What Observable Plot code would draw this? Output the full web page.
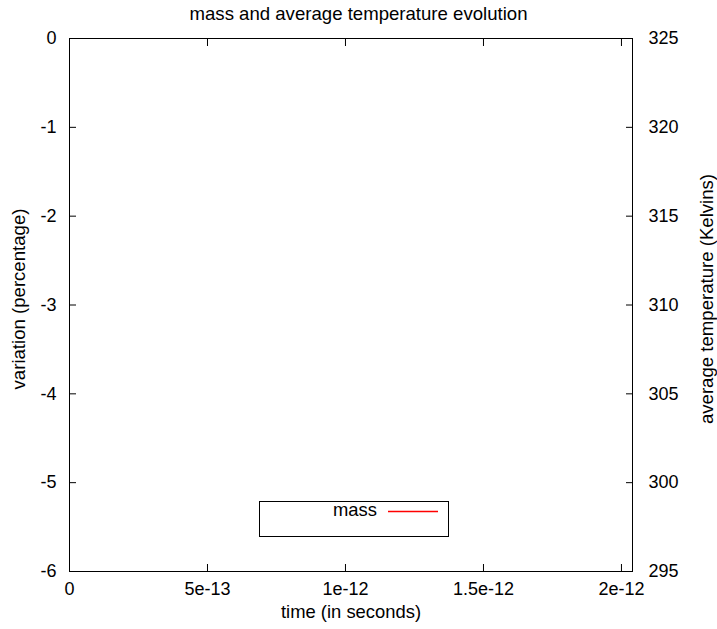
<!DOCTYPE html>
<html>
<head>
<meta charset="utf-8">
<script src="https://cdn.jsdelivr.net/npm/d3@7"></script>
<script src="https://cdn.jsdelivr.net/npm/@observablehq/plot@0.6"></script>
<style>
  body { margin: 0; background: #fff; }
  #wrap { position: relative; width: 717px; height: 629px; font-family: "Liberation Sans", Arial, sans-serif; color: #000; }
  #title { position: absolute; left: 0; top: 5px; width: 717px; text-align: center; font-size: 18.6px; line-height: 18px; }
  #chart { position: absolute; left: 0; top: 0; }
  #legend { position: absolute; left: 259px; top: 501px; width: 188px; height: 34px; border: 1px solid #000; background: #fff; }
  #legend .lab { position: absolute; left: 57px; top: -1px; width: 60px; text-align: right; font-size: 18.4px; line-height: 18px; }
  #legend svg { position: absolute; left: 0; top: 0; }
</style>
</head>
<body>
<div id="wrap">
  <div id="chart"></div>
  <div id="title"></div>
  <div id="legend"><span class="lab"></span><svg width="188" height="34"><line id="swatch" x1="128" x2="178" y1="9.5" y2="9.5"></line></svg></div>
</div>
<script>
// ---- data ----
const titleText = "mass and average temperature evolution";
const xLabel = "time (in seconds)";
const yLeftLabel = "variation (percentage)";
const yRightLabel = "average temperature (Kelvins)";
const xDomain = [0, 2.04e-12];
const xTicks = [0, 5e-13, 1e-12, 1.5e-12, 2e-12];
const xTickLabels = ["0", "5e-13", "1e-12", "1.5e-12", "2e-12"];
const yLeftDomain = [-6, 0];
const yLeftTicks = [0, -1, -2, -3, -4, -5, -6];
const yRightDomain = [295, 325];
const yRightTicks = [325, 320, 315, 310, 305, 300, 295];
const seriesNames = ["mass"];
const seriesColors = ["#ff0000"];
// the mass series has no visible points in the reference
const massTime = [];
const massVariation = [];

// ---- build ----
document.getElementById("title").textContent = titleText;
document.querySelector("#legend .lab").textContent = seriesNames[0];
const sw = document.getElementById("swatch");
sw.style.stroke = seriesColors[0];
sw.style.strokeWidth = "1.3px";

const massData = massTime.map((t, i) => ({t, v: massVariation[i]}));
const rightToLeft = d3.scaleLinear().domain(yRightDomain).range(yLeftDomain);
const leftToRight = rightToLeft.invert;

const chart = Plot.plot({
  width: 717,
  height: 629,
  marginLeft: 69,
  marginRight: 85,
  marginTop: 38,
  marginBottom: 58,
  style: {fontFamily: '"Liberation Sans", Arial, sans-serif', fontSize: "18px", color: "#000", background: "transparent", overflow: "visible"},
  x: {domain: xDomain},
  y: {domain: yLeftDomain},
  marks: [
    Plot.line(massData, {x: "t", y: "v", stroke: seriesColors[0]}),
    Plot.axisX({anchor: "bottom", ticks: xTicks, tickSize: -7, tickPadding: 18, tickFormat: d => xTickLabels[xTicks.indexOf(d)], label: null}),
    Plot.axisX({anchor: "top", ticks: xTicks, tickSize: -7, tickFormat: () => "", label: null}),
    Plot.axisY({anchor: "left", ticks: yLeftTicks, tickSize: -7, tickPadding: 20, tickFormat: d => String(d), label: null}),
    Plot.axisY({anchor: "right", ticks: yRightTicks.map(rightToLeft), tickSize: -7, tickPadding: 23, tickFormat: d => String(Math.round(leftToRight(d))), label: null}),
    Plot.frame({stroke: "#000"}),
    Plot.text([xLabel], {frameAnchor: "bottom", text: d => d, dy: 41, lineAnchor: "middle", fontSize: 18.4}),
    Plot.text([yLeftLabel], {frameAnchor: "left", text: d => d, rotate: -90, dx: -50, dy: -6, textAnchor: "middle", lineAnchor: "middle", fontSize: 18.6}),
    Plot.text([yRightLabel], {frameAnchor: "right", text: d => d, rotate: -90, dx: 75, dy: -6, textAnchor: "middle", lineAnchor: "middle", fontSize: 18.6})
  ]
});
document.getElementById("chart").appendChild(chart);
</script>
</body>
</html>
